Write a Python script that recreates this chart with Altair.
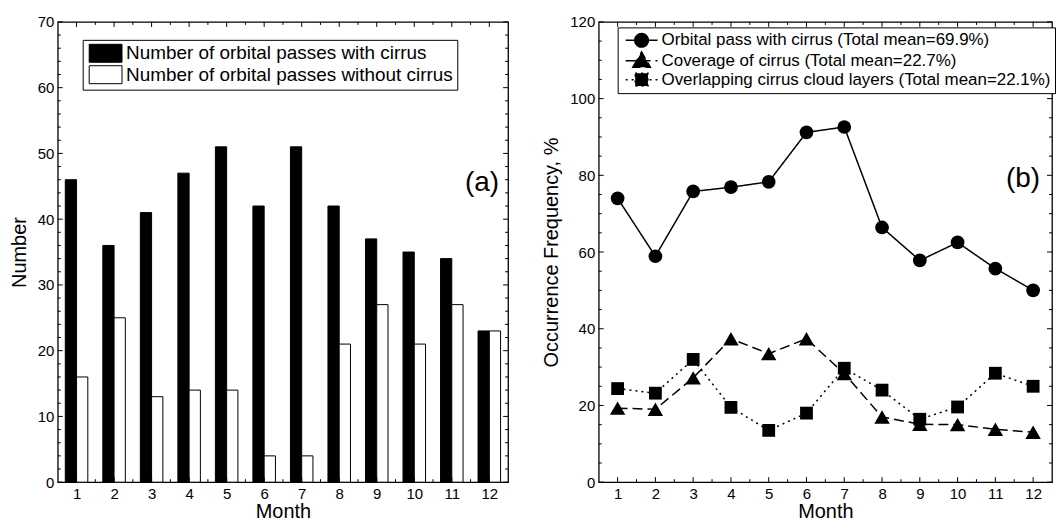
import altair as alt
import pandas as pd

# ---------------- data ----------------
months = list(range(1, 13))
with_cirrus = [46, 36, 41, 47, 51, 42, 51, 42, 37, 35, 34, 23]
without_cirrus = [16, 25, 13, 14, 14, 4, 4, 21, 27, 21, 27, 23]
bar_labels = ["Number of orbital passes with cirrus",
              "Number of orbital passes without cirrus"]

orbital_pass = [74.0, 58.9, 75.8, 76.9, 78.3, 91.2, 92.6, 66.4, 57.8, 62.5, 55.7, 50.0]
coverage = [19.3, 19.0, 27.2, 37.4, 33.5, 37.4, 28.3, 17.0, 15.1, 15.0, 13.8, 13.0]
overlapping = [24.4, 23.2, 32.0, 19.5, 13.5, 18.0, 29.7, 24.0, 16.4, 19.6, 28.4, 25.0]
line_labels = ["Orbital pass with cirrus (Total mean=69.9%)",
               "Coverage of cirrus (Total mean=22.7%)",
               "Overlapping cirrus cloud layers (Total mean=22.1%)"]

x_major = months
x_minor = [m + 0.5 for m in range(1, 12)]
a_y_major = list(range(0, 71, 10))
a_y_minor = [v for v in range(0, 71, 2) if v % 10]
b_y_major = list(range(0, 121, 20))
b_y_minor = [v for v in range(0, 121, 5) if v % 20]

FONT = "Liberation Sans"
WA, WB, H = 452, 455, 462
MAJ, MIN = 5, 3

bars = pd.DataFrame({
    "month": months * 2,
    "value": with_cirrus + without_cirrus,
    "series": [bar_labels[0]] * 12 + [bar_labels[1]] * 12,
})
lines = pd.DataFrame({
    "month": months * 3,
    "value": orbital_pass + coverage + overlapping,
    "series": [line_labels[0]] * 12 + [line_labels[1]] * 12 + [line_labels[2]] * 12,
})


def x_enc(field):
    return alt.X(f"{field}:Q", title="Month",
                 scale=alt.Scale(domain=[0.5, 12.5], nice=False, zero=False),
                 axis=alt.Axis(values=x_major, title="Month", format="d"))


def y_enc(field, dom, vals, title):
    return alt.Y(f"{field}:Q", title=title,
                 scale=alt.Scale(domain=dom, nice=False, zero=False),
                 axis=alt.Axis(values=vals, title=title, format="d"))


def tick_layers(W, y_major, y_minor, dom, title):
    out = []
    for vals, ln in ((x_major, MAJ), (x_minor, MIN)):
        df = pd.DataFrame({"month": vals})
        base = alt.Chart(df).mark_rule(color="black", strokeWidth=1)
        out.append(base.encode(x=x_enc("month"), y=alt.value(H), y2=alt.value(H - ln)))
        out.append(base.encode(x=x_enc("month"), y=alt.value(0), y2=alt.value(ln)))
    for vals, ln in ((y_major, MAJ), (y_minor, MIN)):
        df = pd.DataFrame({"value": vals})
        base = alt.Chart(df).mark_rule(color="black", strokeWidth=1)
        out.append(base.encode(y=y_enc("value", dom, y_major, title), x=alt.value(0), x2=alt.value(ln)))
        out.append(base.encode(y=y_enc("value", dom, y_major, title), x=alt.value(W), x2=alt.value(W - ln)))
    return out


# ---------------- panel (a) ----------------
ytitle_a = "Number"
rects = alt.Chart(bars).transform_calculate(
    x_start=f"datum.month + (datum.series == '{bar_labels[0]}' ? -0.3 : 0)",
    x_end=f"datum.month + (datum.series == '{bar_labels[0]}' ? 0 : 0.3)",
).mark_rect(stroke="black", strokeWidth=1).encode(
    x=x_enc("x_start"),
    x2="x_end:Q",
    y=y_enc("value", [0, 70], a_y_major, ytitle_a),
    y2=alt.datum(0),
    fill=alt.Fill("series:N", scale=alt.Scale(domain=bar_labels, range=["black", "white"]),
                  legend=alt.Legend(title=None, orient="none", legendX=25, legendY=18,
                                    strokeColor="black", fillColor="white", padding=4,
                                    symbolType="M-1.83,-1H1.83V1H-1.83Z", symbolSize=324,
                                    symbolOffset=9.5,
                                    symbolStrokeColor="black", symbolStrokeWidth=1,
                                    labelFont=FONT, labelFontSize=19, labelOffset=11,
                                    rowPadding=-1.5, labelLimit=0)),
)
label_a = alt.Chart(pd.DataFrame({"t": ["(a)"]})).mark_text(
    align="right", baseline="middle", font=FONT, fontSize=28).encode(
    text="t:N", x=alt.value(443), y=alt.value(162))

panel_a = alt.layer(rects, *tick_layers(WA, a_y_major, a_y_minor, [0, 70], ytitle_a), label_a).properties(
    width=WA, height=H)

# ---------------- panel (b) ----------------
ytitle_b = "Occurrence Frequency, %"
shapes = ["circle", "triangle-up", "square"]
sizes = [190, 240, 165]
dashes = [[1, 0], [10, 5], [2, 4]]
legend_paths = [
    "M-2,0H2M0.85,0A0.85,0.85,0,1,1,-0.85,0A0.85,0.85,0,1,1,0.85,0Z",
    "M-2,0H2M-1.1,0.8L0,-1.1L1.1,0.8Z",
    "M-2,0H2M-0.8,-0.8H0.8V0.8H-0.8Z",
]

b_layers = []
for lab, dsh in zip(line_labels, dashes):
    src = alt.Chart(lines).transform_filter(alt.datum.series == lab)
    b_layers.append(src.mark_line(color="black", strokeWidth=1.5, strokeDash=dsh).encode(
        x=x_enc("month"), y=y_enc("value", [0, 120], b_y_major, ytitle_b)))
for lab, shp, sz in zip(line_labels, shapes, sizes):
    src = alt.Chart(lines).transform_filter(alt.datum.series == lab)
    b_layers.append(src.mark_point(shape=shp, size=sz, filled=True, color="black", opacity=1).encode(
        x=x_enc("month"), y=y_enc("value", [0, 120], b_y_major, ytitle_b)))

leg_b = dict(title=None, orient="none", legendX=19, legendY=5.5,
             strokeColor="black", fillColor="white", padding=4,
             symbolSize=256, symbolStrokeWidth=1.5, symbolOffset=11,
             symbolFillColor="black", symbolStrokeColor="black",
             labelFont=FONT, labelFontSize=17, labelOffset=11,
             rowPadding=-1.5, labelLimit=0)

legend_b = alt.Chart(lines).transform_filter("false").mark_point(
    filled=True, strokeWidth=1.5, opacity=1).encode(
    x=x_enc("month"), y=y_enc("value", [0, 120], b_y_major, ytitle_b),
    shape=alt.Shape("series:N", scale=alt.Scale(domain=line_labels, range=legend_paths),
                    legend=alt.Legend(**leg_b)),
    strokeDash=alt.StrokeDash("series:N", scale=alt.Scale(domain=line_labels, range=dashes),
                              legend=alt.Legend(**leg_b)),
    stroke=alt.Stroke("series:N", scale=alt.Scale(domain=line_labels, range=["black"] * 3),
                      legend=alt.Legend(**leg_b)),
    fill=alt.Fill("series:N", scale=alt.Scale(domain=line_labels, range=["black"] * 3),
                  legend=alt.Legend(**leg_b)),
)
label_b = alt.Chart(pd.DataFrame({"t": ["(b)"]})).mark_text(
    align="right", baseline="middle", font=FONT, fontSize=28).encode(
    text="t:N", x=alt.value(443), y=alt.value(158))

panel_b = alt.layer(*b_layers, *tick_layers(WB, b_y_major, b_y_minor, [0, 120], ytitle_b),
                    legend_b, label_b).properties(width=WB, height=H)

chart = alt.hconcat(panel_a, panel_b, spacing=31).resolve_scale(
    fill="independent", shape="independent", strokeDash="independent", stroke="independent"
).resolve_legend(
    fill="independent", shape="independent", strokeDash="independent", stroke="independent"
).properties(
    padding={"left": 8, "top": 13, "right": 0, "bottom": 0}
).configure_view(stroke="black", strokeWidth=1.3).configure_axis(
    grid=False, ticks=False, domain=False,
    labelFont=FONT, labelFontSize=15, labelColor="black", labelPadding=4, labelFlush=False,
    titleFont=FONT, titleFontSize=20, titleFontWeight="normal", titleColor="black",
    titlePadding=8,
).configure_axisX(labelPadding=4, titlePadding=0)

chart.save("out.html", embed_options={"renderer": "svg", "actions": False})
